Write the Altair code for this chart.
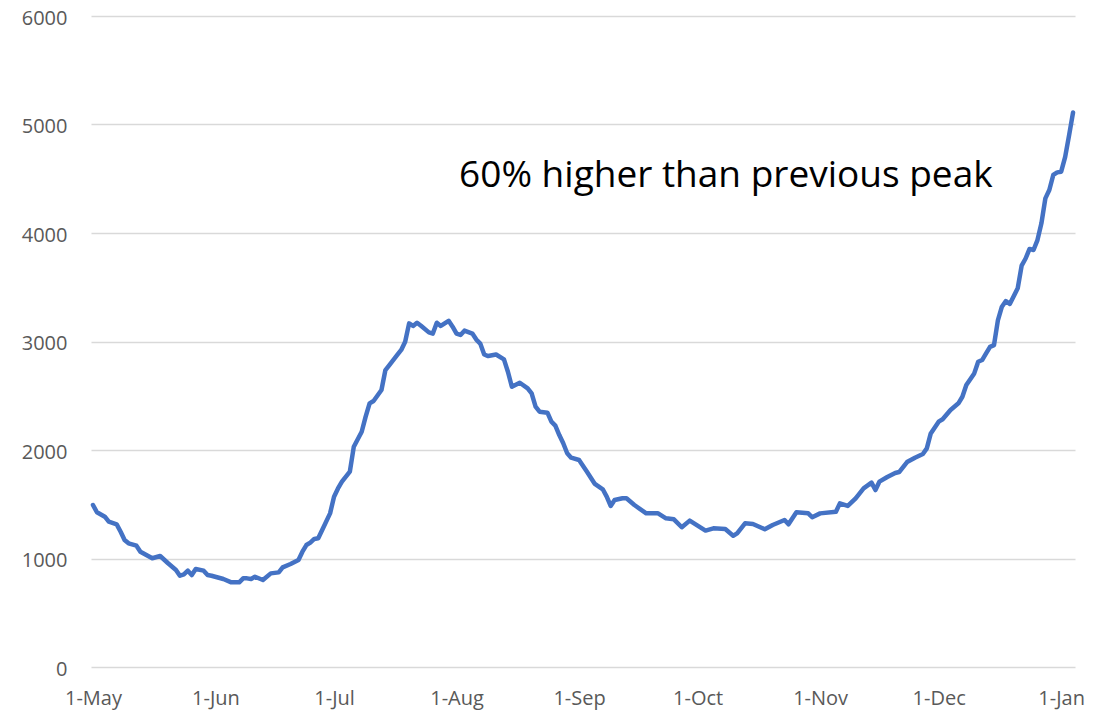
import altair as alt
import pandas as pd

dates = [
    "2021-05-01", "2021-05-02", "2021-05-04", "2021-05-05", "2021-05-07", "2021-05-08",
    "2021-05-09", "2021-05-10", "2021-05-12", "2021-05-13", "2021-05-16", "2021-05-18",
    "2021-05-20", "2021-05-22", "2021-05-23", "2021-05-24", "2021-05-25", "2021-05-26",
    "2021-05-27", "2021-05-29", "2021-05-30", "2021-05-31", "2021-06-03", "2021-06-05",
    "2021-06-07", "2021-06-08", "2021-06-09", "2021-06-10", "2021-06-11", "2021-06-13",
    "2021-06-15", "2021-06-17", "2021-06-18", "2021-06-20", "2021-06-22", "2021-06-23",
    "2021-06-24", "2021-06-25", "2021-06-26", "2021-06-27", "2021-06-28", "2021-06-30",
    "2021-07-01", "2021-07-02", "2021-07-03", "2021-07-05", "2021-07-06", "2021-07-08",
    "2021-07-09", "2021-07-10", "2021-07-11", "2021-07-13", "2021-07-14", "2021-07-15",
    "2021-07-17", "2021-07-18", "2021-07-19", "2021-07-20", "2021-07-21", "2021-07-22",
    "2021-07-23", "2021-07-25", "2021-07-26", "2021-07-27", "2021-07-28", "2021-07-30",
    "2021-07-31", "2021-08-01", "2021-08-02", "2021-08-03", "2021-08-05", "2021-08-06",
    "2021-08-07", "2021-08-08", "2021-08-09", "2021-08-11", "2021-08-13", "2021-08-14",
    "2021-08-15", "2021-08-17", "2021-08-19", "2021-08-20", "2021-08-21", "2021-08-22",
    "2021-08-24", "2021-08-25", "2021-08-26", "2021-08-27", "2021-08-28", "2021-08-29",
    "2021-08-30", "2021-09-01", "2021-09-03", "2021-09-05", "2021-09-06", "2021-09-07",
    "2021-09-08", "2021-09-09", "2021-09-10", "2021-09-12", "2021-09-13", "2021-09-15",
    "2021-09-18", "2021-09-21", "2021-09-23", "2021-09-25", "2021-09-27", "2021-09-29",
    "2021-10-03", "2021-10-05", "2021-10-08", "2021-10-10", "2021-10-11", "2021-10-13",
    "2021-10-15", "2021-10-18", "2021-10-20", "2021-10-23", "2021-10-24", "2021-10-26",
    "2021-10-29", "2021-10-30", "2021-11-01", "2021-11-05", "2021-11-06", "2021-11-08",
    "2021-11-10", "2021-11-12", "2021-11-14", "2021-11-15", "2021-11-16", "2021-11-18",
    "2021-11-20", "2021-11-21", "2021-11-23", "2021-11-25", "2021-11-27", "2021-11-28",
    "2021-11-29", "2021-12-01", "2021-12-02", "2021-12-04", "2021-12-06", "2021-12-07",
    "2021-12-08", "2021-12-10", "2021-12-11", "2021-12-12", "2021-12-13", "2021-12-14",
    "2021-12-15", "2021-12-16", "2021-12-17", "2021-12-18", "2021-12-19", "2021-12-21",
    "2021-12-22", "2021-12-23", "2021-12-24", "2021-12-25", "2021-12-26", "2021-12-27",
    "2021-12-28", "2021-12-29", "2021-12-30", "2021-12-31", "2022-01-01", "2022-01-02",
    "2022-01-03", "2022-01-04",
]

values = [
    1493, 1426, 1385, 1339, 1315, 1247,
    1171, 1140, 1118, 1063, 1002, 1023,
    956, 894, 841, 854, 888, 848,
    903, 888, 848, 841, 811, 780,
    780, 817, 817, 811, 832, 802,
    863, 872, 918, 949, 986, 1063,
    1124, 1146, 1180, 1186, 1263, 1416,
    1570, 1646, 1708, 1800, 2030, 2168,
    2307, 2430, 2452, 2553, 2737, 2783,
    2876, 2922, 2998, 3167, 3143, 3173,
    3145, 3084, 3073, 3173, 3143, 3191,
    3137, 3073, 3060, 3100, 3073, 3018,
    2981, 2880, 2866, 2880, 2835, 2721,
    2583, 2620, 2568, 2521, 2399, 2353,
    2344, 2261, 2224, 2138, 2062, 1970,
    1929, 1908, 1800, 1687, 1662, 1638,
    1570, 1484, 1539, 1555, 1555, 1493,
    1416, 1416, 1370, 1361, 1288, 1349,
    1257, 1278, 1272, 1210, 1232, 1324,
    1318, 1269, 1309, 1355, 1315, 1426,
    1416, 1380, 1416, 1431, 1508, 1484,
    1555, 1646, 1699, 1631, 1708, 1751,
    1788, 1797, 1889, 1929, 1963, 2015,
    2153, 2261, 2283, 2369, 2430, 2491,
    2599, 2706, 2813, 2829, 2890, 2951,
    2967, 3198, 3321, 3373, 3346, 3490,
    3700, 3765, 3853, 3843, 3935, 4089,
    4319, 4396, 4535, 4559, 4565, 4700,
    4900, 5110,
]

month_ticks = [
    "2021-05-01", "2021-06-01", "2021-07-01", "2021-08-01", "2021-09-01",
    "2021-10-01", "2021-11-01", "2021-12-01", "2022-01-01",
]
y_ticks = [0, 1000, 2000, 3000, 4000, 5000, 6000]

ann_date = ["2021-08-01T15:30:00Z"]
ann_value = [4420]
ann_text = ["60% higher than previous peak"]

x_domain = ["2021-04-30T12:00:00Z", "2022-01-04T12:00:00Z"]


def ms(s):
    t = pd.Timestamp(s)
    if t.tzinfo is None:
        t = t.tz_localize("UTC")
    return int(t.value // 10**6)


df = pd.DataFrame({"date": dates, "value": values})
ann = pd.DataFrame({"date": ann_date, "value": ann_value, "label": ann_text})

FONT = "Open Sans"
LABEL_COLOR = "#595959"
GRID = "#d9d9d9"

x_scale = alt.Scale(type="utc", domain=[ms(d) for d in x_domain])
y_scale = alt.Scale(domain=[0, 6000], nice=False)

x_axis = alt.Axis(
    values=[ms(d) for d in month_ticks],
    labelExpr="utcFormat(datum.value, '%-d-%b')",
    grid=False,
    domain=False,
    ticks=False,
    tickSize=0,
    labelPadding=21,
    labelFont=FONT,
    labelFontSize=20,
    labelColor=LABEL_COLOR,
    title=None,
    labelOverlap=False,
)
y_axis = alt.Axis(
    values=y_ticks,
    format="d",
    grid=True,
    gridColor=GRID,
    gridWidth=1.5,
    domain=False,
    ticks=False,
    tickSize=0,
    labelPadding=24,
    labelOffset=2,
    labelFont=FONT,
    labelFontSize=20,
    labelColor=LABEL_COLOR,
    title=None,
)

line = alt.Chart(df).mark_line(
    color="#4472C4", strokeWidth=4.5, strokeJoin="round", strokeCap="round"
).encode(
    x=alt.X("date:T", scale=x_scale, axis=x_axis),
    y=alt.Y("value:Q", scale=y_scale, axis=y_axis),
)

text = alt.Chart(ann).mark_text(
    align="left", baseline="alphabetic", font=FONT, fontSize=37, color="#000000"
).encode(
    x=alt.X("date:T", scale=x_scale, axis=x_axis),
    y=alt.Y("value:Q", scale=y_scale, axis=y_axis),
    text="label:N",
)

chart = (
    alt.layer(line, text)
    .properties(
        width=984,
        height=651,
        autosize=alt.AutoSizeParams(type="none"),
        padding={"left": 83, "top": 8, "right": 30, "bottom": 45},
        background="white",
    )
    .configure_view(stroke=None)
)

chart.save("out.html", embed_options={"renderer": "svg", "actions": False})
